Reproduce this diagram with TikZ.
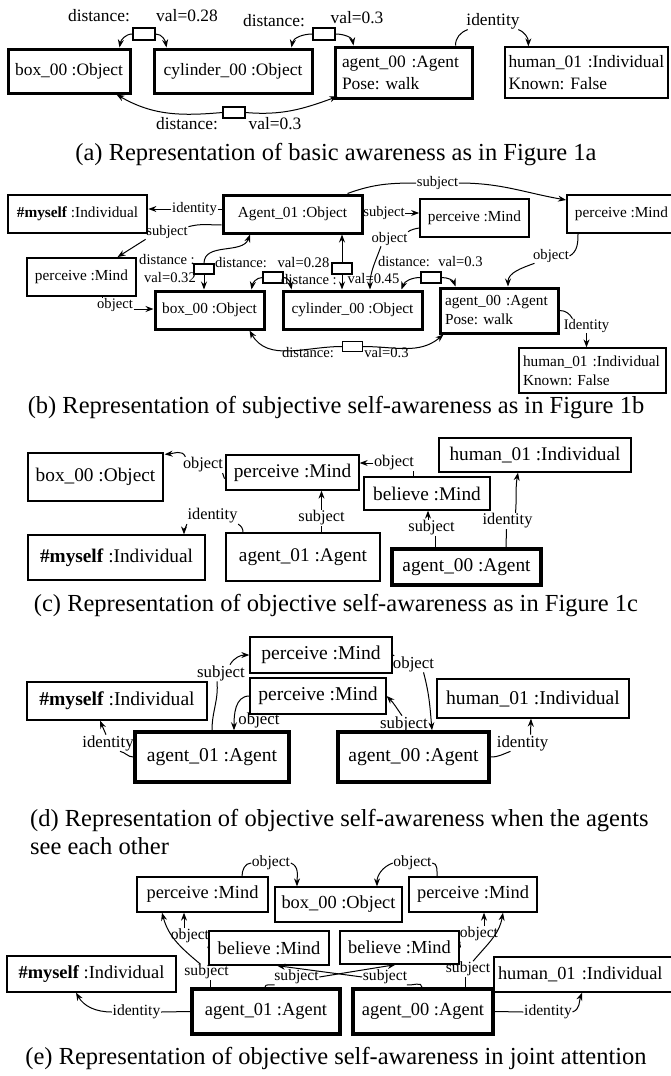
\documentclass[tikz,border=0pt]{standalone}
\usepackage{fontspec}
\setmainfont{Liberation Serif}
\usetikzlibrary{arrows.meta}
\begin{document}
\frenchspacing
\begin{tikzpicture}[x=1pt,y=-1pt,
 bx/.style={draw, rectangle, inner sep=0pt, line width=1.3pt, align=center},
 tk/.style={line width=3pt},
 tkb/.style={line width=3pt},
 lb/.style={inner sep=0.5pt},
 ln/.style={line width=1pt},
 ar/.style={line width=1pt, -{Stealth[length=8pt,width=6pt]}},
 sq/.style={draw, inner sep=0pt, line width=1.1pt},
 fA/.style={font=\fontsize{17.4}{22}\selectfont},
 fB/.style={font=\fontsize{15.3}{19}\selectfont},
 fBl/.style={font=\fontsize{14.6}{16}\selectfont},
 fC/.style={font=\fontsize{19.3}{22}\selectfont},
 fCl/.style={font=\fontsize{16.3}{19}\selectfont},
 fD/.style={font=\fontsize{19.6}{22}\selectfont},
 fDl/.style={font=\fontsize{16.8}{19}\selectfont},
 fE/.style={font=\fontsize{18.4}{21}\selectfont},
 fEl/.style={font=\fontsize{15.6}{18}\selectfont},
 captxt/.style={font=\fontsize{24.5}{28}\selectfont, inner sep=0pt}]
\fill[white] (0,0) rectangle (670,1076);
\useasboundingbox (0,0) rectangle (670,1076);

% ---------------- (a)
\node[bx,tk,fA,minimum width=122,minimum height=44] (a_box) at (69,71) {box\_00 :Object};
\node[bx,tk,fA,minimum width=158,minimum height=44] (a_cyl) at (233,71) {cylinder\_00 :Object};
\node[bx,tk,fA,minimum width=137,minimum height=51,text width=123,align=left] (a_ag) at (403.5,72.5) {agent\_00 :Agent\\Pose: walk};
\node[bx,fA,minimum width=163,minimum height=51,text width=156,align=left] (a_hum) at (586.5,72.5) {human\_01 :Individual\\Known: False};
\node[sq,minimum width=22,minimum height=12] (a_r1) at (144,34) {};
\node[sq,minimum width=22,minimum height=12] (a_r2) at (324,34) {};
\node[sq,minimum width=22,minimum height=11] (a_r3) at (234,112.5) {};
\node[lb,fA] (a_d1) at (99,16) {distance:};
\node[lb,fA] (a_v1) at (187,16) {val=0.28};
\node[lb,fA] (a_d2) at (274,21) {distance:};
\node[lb,fA] (a_v2) at (357,18) {val=0.3};
\node[lb,fA] (a_d3) at (187,124) {distance:};
\node[lb,fA] (a_v3) at (275,124) {val=0.3};
\node[lb,fA] (a_id) at (493,21) {identity};
\draw[ar] (a_r1.west) to[out=180,in=80] ([xshift=-12]a_box.north east);
\draw[ar] (a_r1.east) to[out=0,in=100] ([xshift=14]a_cyl.north west);
\draw[ar] (a_r2.west) to[out=180,in=80] ([xshift=-22]a_cyl.north east);
\draw[ar] (a_r2.east) to[out=0,in=100] ([xshift=20]a_ag.north west);
\draw[ar] (a_r3.west) to[out=185,in=-30] ([xshift=-15]a_box.south east);
\draw[ar] (a_r3.east) to[out=-5,in=200] ([xshift=4,yshift=3]a_ag.south west);
\draw[ln] ([xshift=52]a_ag.north) to[out=90,in=200] ([xshift=2]a_id.south west);
\draw[ar] ([xshift=-2]a_id.south east) to[out=-20,in=90] ([xshift=24]a_hum.north west);
\node[captxt] (capA) at (336,155) {(a) Representation of basic awareness as in Figure 1a};

% ---------------- (b)
\node[bx,fB,line width=2.8,minimum width=139,minimum height=38] (b_my) at (77.5,214) {\textbf{\#myself} :Individual};
\node[bx,fB,tkb,minimum width=139,minimum height=38] (b_A1) at (292.5,214) {Agent\_01 :Object};
\node[bx,fB,line width=1.8,minimum width=109,minimum height=38] (b_pl) at (81.5,277) {perceive :Mind};
\node[bx,fB,line width=1.8,minimum width=109,minimum height=38] (b_pm) at (474.5,218) {perceive :Mind};
\node[bx,fB,line width=1.8,minimum width=109,minimum height=38] (b_pr) at (621.5,214) {perceive :Mind};
\node[bx,fB,tkb,minimum width=109,minimum height=38] (b_box) at (209.5,310) {box\_00 :Object};
\node[bx,fB,tkb,minimum width=139,minimum height=38] (b_cyl) at (352.5,310) {cylinder\_00 :Object};
\node[bx,fB,tkb,minimum width=118,minimum height=45,text width=108,align=left] (b_ag) at (499,310.5) {agent\_00 :Agent\\Pose: walk};
\node[bx,fB,line width=1.3,minimum width=147,minimum height=45,text width=139,align=left] (b_hum) at (592.5,370.5) {human\_01 :Individual\\Known: False};
\node[sq,minimum width=20,minimum height=10] (b_r1) at (204,269) {};
\node[sq,minimum width=20,minimum height=11] (b_r2) at (273,277.5) {};
\node[sq,minimum width=20,minimum height=11] (b_r3) at (342,268.5) {};
\node[sq,minimum width=20,minimum height=11] (b_r4) at (431,277.5) {};
\node[sq,minimum width=20,minimum height=10] (b_r5) at (352.5,346.5) {};
\node[lb,fBl] (b_id) at (194.5,209) {identity};
\node[lb,fBl] (b_sl) at (167,232) {subject};
\node[lb,fBl] (b_ol) at (115,305) {object};
\node[lb,fBl] (b_st) at (437.5,183) {subject};
\node[lb,fBl] (b_sm) at (384,213) {subject};
\node[lb,fBl] (b_om) at (389.5,239) {object};
\node[lb,fBl] (b_or) at (551,256) {object};
\node[lb,fBl] (b_d1) at (167,260) {distance :};
\node[lb,fBl] (b_v1) at (170,278) {val=0.32};
\node[lb,fBl] (b_d2) at (241,263) {distance:};
\node[lb,fBl] (b_v2) at (303.5,263) {val=0.28};
\node[lb,fBl] (b_d3) at (309,280) {distance :};
\node[lb,fBl] (b_v3) at (373.5,279) {val=0.45};
\node[lb,fBl] (b_d4) at (404,262) {distance:};
\node[lb,fBl] (b_v4) at (460.5,262) {val=0.3};
\node[lb,fBl] (b_d5) at (308,353) {distance:};
\node[lb,fBl] (b_v5) at (386.5,353) {val=0.3};
\node[lb,fBl] (b_Id) at (586.5,326) {Identity};
\draw[ln] (b_id.east) -- (b_id.east -| b_A1.west);
\draw[ar] (b_id.west) -- (b_id.west -| b_my.east);
\draw[ln] ([yshift=-11]b_A1.west) to[out=180,in=15] ([yshift=-2]b_sl.north east);
\draw[ar] (b_sl.south west) -- ([xshift=36]b_pl.north);
\draw[ln] ([xshift=20.5]b_pl.south) -- ([xshift=-13]b_ol.north);
\draw[ar] ([yshift=-4]b_ol.east) -- ([yshift=-4]b_ol.east -| b_box.west);
\draw[ln] ([xshift=55]b_A1.north) to[out=20,in=180] (b_st.west);
\draw[ar] (b_st.east) to[out=0,in=170] ([yshift=14]b_pr.west);
\draw[ar] (b_sm.east) -- (b_sm.east -| b_pm.west);
\draw[ln] ([yshift=-10]b_pm.west) to[out=190,in=30] (b_om.north east);
\draw[ar] ([xshift=10]b_om.south west) to[out=-110,in=90] ([xshift=17.5]b_cyl.north);
\draw[ln] ([xshift=-43.5]b_pr.south) to[out=-90,in=30] (b_or.east);
\draw[ar] ([xshift=2]b_or.south west) to[out=200,in=90] ([xshift=9]b_ag.north);
\draw[ar] (b_r1.north) to[out=90,in=-110] ([xshift=-42.5]b_A1.south);
\draw[ar] (b_r1.south) -- (b_r1.south |- b_box.north);
\draw[ar] (b_r2.west) to[out=180,in=80] ([xshift=42]b_box.north);
\draw[ar] (b_r2.east) to[out=0,in=100] ([xshift=10]b_cyl.north west);
\draw[ar] (b_r3.north) -- (b_r3.north |- b_A1.south);
\draw[ar] (b_r3.south) -- (b_r3.south |- b_cyl.north);
\draw[ar] (b_r4.west) to[out=180,in=70] ([xshift=-22]b_cyl.north east);
\draw[ar] (b_r4.east) to[out=0,in=110] ([xshift=17]b_ag.north west);
\draw[ar] (b_r5.west) to[out=180,in=-60] ([xshift=40]b_box.south);
\draw[ar] (b_r5.east) to[out=0,in=-140] ([xshift=5]b_ag.south west);
\draw[ln] (b_ag.east) to[out=0,in=120] ([xshift=-14]b_Id.north);
\draw[ar] (b_Id.south) -- (b_Id.south |- b_hum.north);
\node[captxt] (capB) at (336,408) {(b) Representation of subjective self-awareness as in Figure 1b};

% ---------------- (c)
\node[bx,fC,minimum width=135,minimum height=48] (c_box) at (95.5,477) {box\_00 :Object};
\node[bx,fC,minimum width=133,minimum height=35] (c_per) at (292.5,472.5) {perceive :Mind};
\node[bx,fC,minimum width=177,minimum height=45] (c_my) at (116.5,557.5) {\textbf{\#myself} :Individual};
\node[bx,fC,minimum width=154,minimum height=48] (c_a1) at (303,557) {agent\_01 :Agent};
\node[bx,fC,minimum width=126,minimum height=33] (c_bel) at (427,493.5) {believe :Mind};
\node[bx,fC,minimum width=192,minimum height=34] (c_hum) at (535,455) {human\_01 :Individual};
\node[bx,fC,line width=3.5,minimum width=149,minimum height=36] (c_a0) at (466.5,567) {agent\_00 :Agent};
\node[lb,fCl] (c_ol) at (203,465) {object};
\node[lb,fCl] (c_or) at (394,463) {object};
\node[lb,fCl] (c_sa1) at (321.5,518) {subject};
\node[lb,fCl] (c_ia1) at (212.5,516) {identity};
\node[lb,fCl] (c_sa0) at (431.5,528) {subject};
\node[lb,fCl] (c_ia0) at (507.5,521) {identity};
\draw[ln] ([yshift=-6]c_per.west) to[out=180,in=-45] ([xshift=-1]c_ol.south east);
\draw[ar] ([xshift=3]c_ol.north west) to[out=110,in=5] ([xshift=1,yshift=-2]c_box.north east);
\draw[ln] ([xshift=-14]c_bel.north) -- ([xshift=19]c_or.south);
\draw[ar] (c_or.west) -- (c_or.west -| c_per.east);
\draw[ln] (c_sa1.south |- c_a1.north) -- (c_sa1.south);
\draw[ar] (c_sa1.north) -- (c_sa1.north |- c_per.south);
\draw[ln] ([xshift=-60]c_a1.north) to[out=90,in=-30] (c_ia1.south east);
\draw[ar] (c_ia1.south west) to[out=-110,in=90] ([xshift=67.5]c_my.north);
\draw[ln] ([xshift=-31.5]c_a0.north) -- ([xshift=3.5]c_sa0.south);
\draw[ar] ([xshift=-3.5]c_sa0.north) -- ([xshift=1]c_bel.south);
\draw[ln] ([xshift=39.5]c_a0.north) -- ([xshift=-1]c_ia0.south);
\draw[ar] ([xshift=8]c_ia0.north) to[out=85,in=-100] ([xshift=-17]c_hum.south);
\node[captxt] (capC) at (336,606) {(c) Representation of objective self-awareness as in Figure 1c};

% ---------------- (d)
\node[bx,fD,minimum width=142,minimum height=36] (d_p1) at (321,655) {perceive :Mind};
\node[bx,fD,minimum width=136,minimum height=36] (d_p2) at (318,696) {perceive :Mind};
\node[bx,fD,minimum width=180,minimum height=38] (d_my) at (117,701) {\textbf{\#myself} :Individual};
\node[bx,fD,line width=3.5,minimum width=154,minimum height=50] (d_a1) at (212,757) {agent\_01 :Agent};
\node[bx,fD,minimum width=192,minimum height=39] (d_hum) at (533,698.5) {human\_01 :Individual};
\node[bx,fD,line width=3.5,minimum width=151,minimum height=50] (d_a0) at (413.5,757) {agent\_00 :Agent};
\node[lb,fDl] (d_sa1) at (221,673) {subject};
\node[lb,fDl] (d_oa1) at (259,720) {object};
\node[lb,fDl] (d_ia1) at (108,743) {identity};
\node[lb,fDl] (d_oa0) at (413.5,664) {object};
\node[lb,fDl] (d_sa0) at (404,724) {subject};
\node[lb,fDl] (d_ia0) at (522.5,743) {identity};
\draw[ln] (d_a1.north) to[out=90,in=-85] ([xshift=-4]d_sa1.south);
\draw[ar] ([xshift=9]d_sa1.north) to[out=60,in=180] (d_p1.west);
\draw[ar] (d_p2.west) to[out=180,in=90] ([xshift=22]d_a1.north);
\draw[ln] (d_a1.west) to[out=180,in=-10] ([xshift=12]d_ia1.south);
\draw[ar] ([xshift=-2]d_ia1.north) -- ([xshift=-17]d_my.south);
\draw[ln] (d_p1.east) to[out=0,in=110] ([xshift=2]d_oa0.north west);
\draw[ar] ([xshift=10]d_oa0.south) to[out=-75,in=95] ([xshift=18.5]d_a0.north);
\draw[ar] ([xshift=-2]d_sa0.north) to[out=125,in=-45] (d_p2.east);
\draw[ln] (d_a0.east) to[out=0,in=-160] ([xshift=-12]d_ia0.south);
\draw[ar] ([xshift=8]d_ia0.north) -- ([xshift=-2]d_hum.south);
\node[captxt,align=left,anchor=west] (capD) at (30,832) {(d) Representation of objective self-awareness when the agents\\see each other};

% ---------------- (e)
\node[bx,fE,minimum width=131,minimum height=35] (e_pl) at (202.5,894.5) {perceive :Mind};
\node[bx,fE,minimum width=127,minimum height=35] (e_box) at (338.5,904.5) {box\_00 :Object};
\node[bx,fE,minimum width=128,minimum height=35] (e_pr) at (473,894.5) {perceive :Mind};
\node[bx,fE,minimum width=120,minimum height=34] (e_bl) at (269,948) {believe :Mind};
\node[bx,fE,minimum width=119,minimum height=33] (e_br) at (399.5,947.5) {believe :Mind};
\node[bx,fE,minimum width=169,minimum height=36] (e_my) at (91.5,974) {\textbf{\#myself} :Individual};
\node[bx,fE,minimum width=181,minimum height=35,text width=173,align=left] (e_hum) at (584.5,974.5) {human\_01 :Individual};
\node[bx,fE,line width=3.5,minimum width=148,minimum height=45] (e_a1) at (266,1011.5) {agent\_01 :Agent};
\node[bx,fE,line width=3.5,minimum width=140,minimum height=45] (e_a0) at (423,1011.5) {agent\_00 :Agent};
\node[lb,fEl] (e_otl) at (271,863) {object};
\node[lb,fEl] (e_otr) at (412.5,863) {object};
\node[lb,fEl] (e_ol) at (190,936) {object};
\node[lb,fEl] (e_sl) at (206.5,972) {subject};
\node[lb,fEl] (e_sml) at (296.5,977) {subject};
\node[lb,fEl] (e_smr) at (385,977) {subject};
\node[lb,fEl] (e_or) at (479,934) {object};
\node[lb,fEl] (e_sr) at (468,969) {subject};
\node[lb,fEl] (e_il) at (136.5,1012) {identity};
\node[lb,fEl] (e_ir) at (548,1012) {identity};
\draw[ln] ([xshift=39.5]e_pl.north) to[out=90,in=180] (e_otl.west);
\draw[ar] (e_otl.east) to[out=-20,in=90] ([xshift=-41.5]e_box.north);
\draw[ln] ([xshift=-36]e_pr.north) to[out=90,in=0] (e_otr.east);
\draw[ar] (e_otr.west) to[out=200,in=90] ([xshift=38.5]e_box.north);
\draw[ln] (e_bl.west) to[out=180,in=-20] ([xshift=-1]e_ol.south east);
\draw[ar] ([xshift=-6]e_ol.north) -- ([xshift=-18.5]e_pl.south);
\draw[ln] ([xshift=-56]e_a1.north) -- ([xshift=3.5]e_sl.south);
\draw[ar] ([xshift=-6]e_sl.north) to[out=140,in=-75] ([xshift=-40.5]e_pl.south);
\draw[ln] ([xshift=-1]e_a1.north) to[out=90,in=190] ([xshift=1]e_sml.south west);
\draw[ar] (e_sml.east) -- ([xshift=-4]e_br.south);
\draw[ln] ([xshift=-1]e_a0.north) to[out=90,in=-10] ([xshift=-1]e_smr.south east);
\draw[ar] (e_smr.west) -- ([xshift=8]e_bl.south);
\draw[ln] (e_br.east) to[out=0,in=-160] ([xshift=1]e_or.south west);
\draw[ar] ([xshift=5]e_or.north) -- ([xshift=11]e_pr.south);
\draw[ln] ([xshift=42]e_a0.north) -- ([xshift=-3]e_sr.south);
\draw[ar] ([xshift=5]e_sr.north) to[out=50,in=-100] ([xshift=30]e_pr.south);
\draw[ln] (e_a1.west) -- (e_il.east);
\draw[ar] (e_il.west) to[out=180,in=-60] ([xshift=-15.5]e_my.south);
\draw[ln] (e_a0.east) -- (e_ir.west);
\draw[ar] (e_ir.east) to[out=20,in=-110] ([xshift=-2.5]e_hum.south);
\node[captxt] (capE) at (336,1058) {(e) Representation of objective self-awareness in joint attention};
\end{tikzpicture}
\end{document}
